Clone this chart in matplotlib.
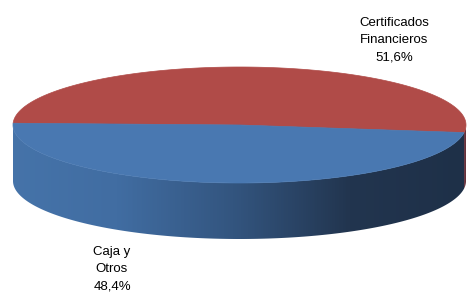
import numpy as np
import matplotlib.pyplot as plt
from matplotlib.patches import Polygon
from matplotlib.colors import LinearSegmentedColormap

labels = ["Certificados\nFinancieros", "Caja y\nOtros"]
shares = [51.6, 48.4]
top_colors = ["#B04B48", "#4978B1"]
side_stops = [
    ["#66303A", "#66303A"],
    ["#4674AA", "#416DA2", "#33557F", "#22354F", "#1E3048"],
]
label_pos = [(394, 40), (112, 269)]

W, H = 467, 297
fig = plt.figure(figsize=(W / 100, H / 100), dpi=100)
ax = fig.add_axes([0, 0, 1, 1])

# pie geometry in pixel coordinates
cx, cy, rx, ry, depth = 239.5, 125, 226.5, 58, 56
start = -7.5


def arc(a0, a1, dy=0, n=200):
    t = np.radians(np.linspace(a0, a1, n))
    return np.c_[cx + rx * np.cos(t), cy - ry * np.sin(t) + dy]


bounds = start + np.concatenate([[0], np.cumsum(shares)]) / sum(shares) * 360
gx = np.linspace(0, 1, W)[None, :].repeat(2, axis=0)

# side walls (front half only)
for i in range(len(shares)):
    a0, a1 = bounds[i], bounds[i + 1]
    segs = [(max(a0, 180), min(a1, 360)), (max(a0 + 360, 180), min(a1 + 360, 360))]
    for s0, s1 in segs:
        if s1 <= s0:
            continue
        pts = np.vstack([arc(s0, s1), arc(s1, s0, depth)])
        patch = Polygon(pts, closed=True, facecolor="none", edgecolor="none")
        ax.add_patch(patch)
        cmap = LinearSegmentedColormap.from_list("side%d" % i, side_stops[i])
        im = ax.imshow(gx, extent=[0, W, H, 0], aspect="auto", cmap=cmap, zorder=1)
        im.set_clip_path(patch)

# top faces
for i in range(len(shares)):
    pts = np.vstack([[cx, cy], arc(bounds[i], bounds[i + 1])])
    ax.add_patch(Polygon(pts, closed=True, facecolor=top_colors[i],
                         edgecolor=top_colors[i], linewidth=0.5, zorder=2))

for lab, val, (x, y) in zip(labels, shares, label_pos):
    txt = "%s\n%s%%" % (lab, ("%.1f" % val).replace(".", ","))
    ax.text(x, y, txt, ha="center", va="center", fontsize=9.5,
            family="Liberation Sans", linespacing=1.6, color="#000000")

ax.set_xlim(0, W)
ax.set_ylim(H, 0)
ax.axis("off")
fig.savefig("out.png", dpi=100, facecolor="white")
